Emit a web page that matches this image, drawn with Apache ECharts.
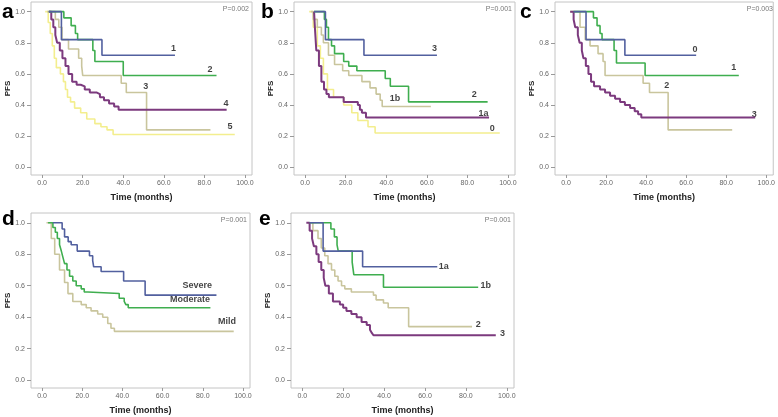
<!DOCTYPE html>
<html><head><meta charset="utf-8">
<script src="https://cdn.jsdelivr.net/npm/echarts@6/dist/echarts.min.js"></script>
<style>html,body{margin:0;padding:0;background:#fff}#c{width:778px;height:417px}</style>
</head><body><div id="c"></div>
<script>
// ---- data: Kaplan-Meier step points [time (months), PFS] ----
const xTicks = [0, 20, 40, 60, 80, 100];
const yTicks = [0, 0.2, 0.4, 0.6, 0.8, 1.0];
const panelLetters = ['a', 'b', 'c', 'd', 'e'];
const pValues = ['P=0.002', 'P=0.001', 'P=0.003', 'P=0.001', 'P=0.001'];

// panel a
const a_1 = [[3.3,1],[9.5,0.82],[29.5,0.72],[65.5,0.72]];
const a_2 = [[3.3,1],[10.7,0.96],[14.3,0.91],[16.4,0.86],[17.5,0.82],[25,0.75],[26,0.68],[40,0.59],[86,0.59]];
const a_3 = [[2.5,1],[6.5,0.95],[8.2,0.9],[9.8,0.82],[13,0.76],[18,0.7],[19.5,0.65],[20,0.59],[39,0.54],[41.5,0.48],[51.5,0.24],[83,0.24]];
const a_4 = [[3.3,1],[4.5,0.95],[5.5,0.9],[6.5,0.85],[7.4,0.8],[8.7,0.75],[10,0.7],[11.5,0.65],[13,0.6],[14.8,0.55],[17,0.53],[19,0.52],[21,0.5],[23.5,0.48],[27,0.47],[28.5,0.45],[30.5,0.43],[33,0.41],[35.5,0.39],[37.7,0.37],[91,0.37]];
const a_5 = [[1.5,1],[3,0.93],[4,0.86],[5,0.78],[6,0.7],[7,0.64],[9,0.6],[10.5,0.55],[11.5,0.5],[12.5,0.45],[14,0.42],[16,0.38],[19,0.35],[22,0.31],[26,0.28],[29,0.26],[32,0.24],[35,0.21],[95,0.21]];
// panel b
const b_3 = [[4.4,1],[10,0.82],[29,0.72],[65,0.72]];
const b_2 = [[4.4,1],[9.5,0.95],[10.5,0.9],[11.5,0.82],[13,0.78],[14.5,0.73],[19,0.68],[21.5,0.65],[25.5,0.62],[39.5,0.57],[42,0.52],[51,0.42],[90,0.42]];
const b_1b = [[2.8,1],[4,0.95],[6,0.9],[8,0.85],[9,0.8],[11.5,0.72],[14.5,0.66],[18.5,0.62],[21.5,0.59],[28,0.55],[32,0.51],[35,0.47],[37,0.43],[38,0.39],[62,0.39]];
const b_1a = [[4.4,1],[4.8,0.9],[5.5,0.75],[6.8,0.65],[8,0.55],[9.3,0.5],[10.5,0.47],[11.7,0.45],[19,0.42],[26,0.4],[27,0.37],[28,0.35],[30,0.32],[90.7,0.32]];
const b_0 = [[2,1],[4,0.9],[6,0.78],[7.5,0.7],[9,0.6],[11,0.5],[14,0.45],[19,0.4],[23,0.35],[26,0.3],[31,0.26],[34.5,0.22],[96,0.22]];
// panel c
const c_0 = [[3.8,1],[10,0.82],[29.4,0.72],[65,0.72]];
const c_1 = [[3.8,1],[13.7,0.96],[15.5,0.91],[17,0.86],[18,0.82],[24,0.75],[25.2,0.67],[39.5,0.59],[86.3,0.59]];
const c_2 = [[2,1],[7,0.9],[9.6,0.82],[12,0.78],[16,0.73],[18.5,0.68],[19.5,0.59],[38.5,0.54],[41.7,0.48],[51,0.24],[83,0.24]];
const c_3 = [[2.1,1],[3.8,0.95],[4.6,0.9],[5.9,0.85],[6.8,0.8],[7.9,0.75],[8.7,0.7],[9.9,0.65],[11.2,0.6],[12.5,0.55],[14,0.52],[17,0.5],[19.5,0.48],[22,0.46],[24.5,0.44],[27,0.42],[29.4,0.4],[32,0.38],[34.3,0.36],[36,0.34],[37.6,0.32],[94.5,0.32]];
// panel d
const d_severe = [[5.4,1],[10,0.96],[11.2,0.91],[13,0.88],[14.5,0.86],[17.5,0.82],[23.6,0.79],[25.2,0.76],[25.7,0.72],[29.4,0.69],[40.6,0.63],[51.3,0.54],[86.8,0.54]];
const d_moderate = [[3,1],[5.4,0.97],[6.6,0.94],[7.6,0.9],[8.7,0.86],[9.6,0.82],[10.4,0.78],[11.2,0.74],[12.4,0.7],[13.7,0.66],[15.3,0.63],[17,0.6],[19.5,0.58],[21,0.56],[22.8,0.55],[38.4,0.52],[40.9,0.5],[41.7,0.48],[42.9,0.46],[83.8,0.46]];
const d_mild = [[2.2,1],[4.6,0.9],[6.3,0.8],[8.7,0.7],[11.2,0.62],[12.9,0.55],[15.3,0.5],[19.5,0.48],[22,0.46],[24.4,0.44],[27.7,0.42],[30.2,0.4],[32.7,0.36],[34.3,0.33],[36,0.31],[95.4,0.31]];
// panel e
const e_1a = [[3.6,1],[10.2,0.82],[29.5,0.72],[66,0.72]];
const e_1b = [[3.6,1],[14,0.96],[15.7,0.91],[17,0.86],[17.6,0.82],[24.4,0.75],[25.2,0.67],[39.7,0.59],[86,0.59]];
const e_2 = [[2.8,1],[5.2,0.95],[7.7,0.9],[9.3,0.84],[11,0.79],[12.6,0.74],[14.3,0.7],[15.9,0.66],[17.5,0.63],[19.2,0.6],[20.8,0.58],[24,0.56],[34.8,0.54],[36.1,0.51],[39.7,0.49],[42,0.46],[52,0.34],[83,0.34]];
const e_3 = [[2,1],[3.6,0.95],[4.8,0.9],[5.7,0.85],[6.9,0.8],[8,0.75],[9.3,0.7],[10.5,0.65],[11.3,0.6],[13,0.55],[15,0.5],[18.4,0.48],[20,0.46],[21.6,0.44],[24,0.42],[26.6,0.4],[29,0.37],[31.5,0.35],[33.1,0.32],[34,0.3],[34.8,0.285],[94.6,0.285]];

// curve label anchors (data coordinates)
const labelsA = [['1',64.8,0.76],['2',82.8,0.63],['3',51.1,0.52],['4',90.7,0.41],['5',92.6,0.26]];
const labelsB = [['3',63.8,0.76],['2',83.4,0.47],['1b',44.3,0.44],['1a',88,0.345],['0',92.3,0.25]];
const labelsC = [['0',64.4,0.757],['1',83.8,0.64],['2',50.3,0.523],['3',94,0.338]];
const labelsD = [['Severe',77.2,0.6],['Moderate',73.6,0.51],['Mild',92,0.37]];
const labelsE = [['1a',69.2,0.725],['1b',89.7,0.6],['2',86,0.354],['3',97.9,0.294]];

// ---- styling ----
const COL = {blue:'#52609f', green:'#3fae4f', tan:'#c9c59d', purple:'#7c3a7e', yellow:'#f3ee8e'};
const grids = [
  {left:31, top:2, width:221, height:173},
  {left:294, top:2, width:221, height:173},
  {left:555, top:2, width:221, height:173},
  {left:31, top:213, width:219, height:175},
  {left:291, top:213, width:223, height:175}
];
const panels = [
  {curves:[[a_5,COL.yellow],[a_3,COL.tan],[a_4,COL.purple],[a_2,COL.green],[a_1,COL.blue]], labels:labelsA},
  {curves:[[b_0,COL.yellow],[b_1b,COL.tan],[b_1a,COL.purple],[b_2,COL.green],[b_3,COL.blue]], labels:labelsB},
  {curves:[[c_2,COL.tan],[c_3,COL.purple],[c_1,COL.green],[c_0,COL.blue]], labels:labelsC},
  {curves:[[d_mild,COL.tan],[d_moderate,COL.green],[d_severe,COL.blue]], labels:labelsD},
  {curves:[[e_2,COL.tan],[e_3,COL.purple],[e_1b,COL.green],[e_1a,COL.blue]], labels:labelsE}
];
const FONT = 'Liberation Sans, Arial, sans-serif';

const grid = grids.map(g => Object.assign({show:true, borderColor:'#c4c4c4', borderWidth:1, backgroundColor:'#fff'}, g));
const xAxis = grids.map((g,i) => ({
  type:'value', gridIndex:i, min:-5.5, max:103.5,
  axisLine:{show:false, onZero:false}, splitLine:{show:false},
  axisTick:{show:true, customValues:xTicks, length:3, lineStyle:{color:'#999'}},
  axisLabel:{customValues:xTicks, formatter:v=>v.toFixed(1), fontSize:7, color:'#666', margin:5, fontFamily:FONT},
  name:'Time (months)', nameLocation:'middle', nameGap:18,
  nameTextStyle:{fontSize:9, fontWeight:'bold', color:'#222', fontFamily:FONT}
}));
const yAxis = grids.map((g,i) => ({
  type:'value', gridIndex:i, min:-0.05, max:1.062,
  axisLine:{show:false, onZero:false}, splitLine:{show:false},
  axisTick:{show:true, customValues:yTicks, length:4, lineStyle:{color:'#999'}},
  axisLabel:{customValues:yTicks, formatter:v=>v.toFixed(1), fontSize:7, color:'#666', margin:6, fontFamily:FONT},
  name:'PFS', nameLocation:'middle', nameGap:19, nameRotate:90,
  nameTextStyle:{fontSize:8, fontWeight:'bold', color:'#222', fontFamily:FONT}
}));

const series = [];
panels.forEach((p,i) => {
  p.curves.forEach(([d,col]) => {
    series.push({type:'line', xAxisIndex:i, yAxisIndex:i, data:d, step:'end', symbol:'none',
      lineStyle:{color:col, width: col===COL.purple ? 2 : 1.6}, silent:true, animation:false});
  });
  series.push({type:'scatter', xAxisIndex:i, yAxisIndex:i, symbolSize:0, silent:true, animation:false,
    data:p.labels.map(l => ({value:[l[1], l[2]], name:l[0]})),
    label:{show:true, position:'inside', formatter:'{b}', fontSize:9, fontWeight:'bold', color:'#111', fontFamily:FONT}});
});

const graphic = [];
const letterPos = [[2,12],[261,12],[520,12],[2,219],[259,219]];
letterPos.forEach((pp,i) => graphic.push({type:'text', left:pp[0], top:pp[1]-10,
  style:{text:panelLetters[i], font:'bold 21px '+FONT, fill:'#000'}}));
grids.forEach((g,i) => graphic.push({type:'text', right: 778-(g.left+g.width)+3, top:g.top+4,
  style:{text:pValues[i], font:'7px '+FONT, fill:'#777'}}));

const chart = echarts.init(document.getElementById('c'), null, {renderer:'canvas'});
chart.setOption({animation:false, grid, xAxis, yAxis, series, graphic});
</script></body></html>
